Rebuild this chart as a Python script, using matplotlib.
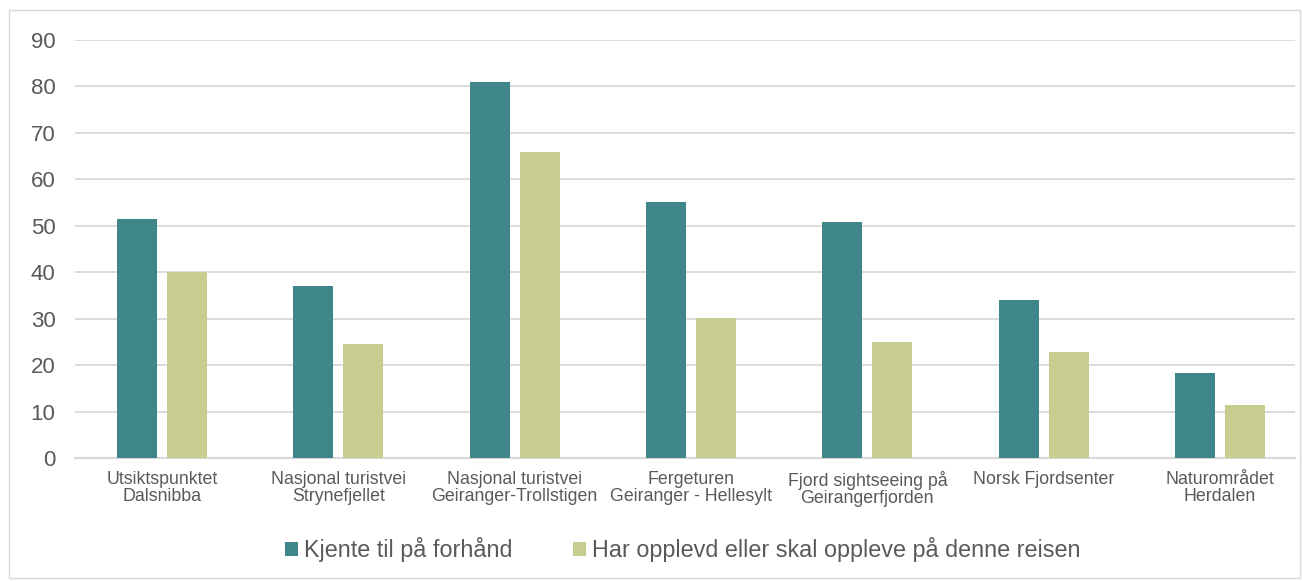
import matplotlib.pyplot as plt
from matplotlib.patches import Rectangle
import numpy as np

plt.rcParams['font.family'] = ['Liberation Sans', 'DejaVu Sans']

categories = ["Utsiktspunktet\nDalsnibba", "Nasjonal turistvei\nStrynefjellet",
              "Nasjonal turistvei\nGeiranger-Trollstigen", "Fergeturen\nGeiranger - Hellesylt",
              "Fjord sightseeing på\nGeirangerfjorden", "Norsk Fjordsenter",
              "Naturområdet\nHerdalen"]
kjente = [51.5, 37.0, 81.0, 55.2, 50.9, 34.0, 18.2]
opplevd = [40.0, 24.5, 65.9, 30.1, 24.9, 22.9, 11.5]
series_names = ["Kjente til på forhånd", "Har opplevd eller skal oppleve på denne reisen"]

teal = '#3F868A'
green = '#C6CD8F'
text_col = '#595959'
grid_col = '#D9D9D9'

fig = plt.figure(figsize=(13.02, 5.81), dpi=100)
fig.patches.append(Rectangle((9 / 1302, 3 / 581), 1291 / 1302, 568 / 581,
                             transform=fig.transFigure, fill=False,
                             edgecolor=grid_col, linewidth=1))
ax = fig.add_axes([75 / 1302, 1 - 458 / 581, 1220 / 1302, 418 / 581])

x = np.arange(len(categories))
w = 0.227
off = 0.142
ax.bar(x - off, kjente, w, color=teal, label=series_names[0], zorder=3)
ax.bar(x + off, opplevd, w, color=green, label=series_names[1], zorder=3)

ax.set_xlim(-0.493, 6.425)
ax.set_ylim(0, 90)
ax.set_yticks(range(0, 91, 10))
ax.yaxis.grid(True, color=grid_col, linewidth=1.3, zorder=0)
ax.set_axisbelow(True)
for s in ['top', 'right', 'left']:
    ax.spines[s].set_visible(False)
ax.spines['bottom'].set_color(grid_col)
ax.spines['bottom'].set_linewidth(1.6)
ax.tick_params(axis='both', length=0, colors=text_col)
ax.tick_params(axis='y', labelsize=16, pad=14)
ax.tick_params(axis='x', labelsize=12.8, pad=9)
ax.set_xticks(x)
ax.set_xticklabels(categories, linespacing=1.05)

leg = fig.legend(loc='center', bbox_to_anchor=(683 / 1302, 1 - 550 / 581), ncol=2,
                 frameon=False, fontsize=16.8, handlelength=0.55, handleheight=0.55,
                 handletextpad=0.25, columnspacing=2.6)
for t in leg.get_texts():
    t.set_color(text_col)

fig.savefig("out.png", dpi=100)
